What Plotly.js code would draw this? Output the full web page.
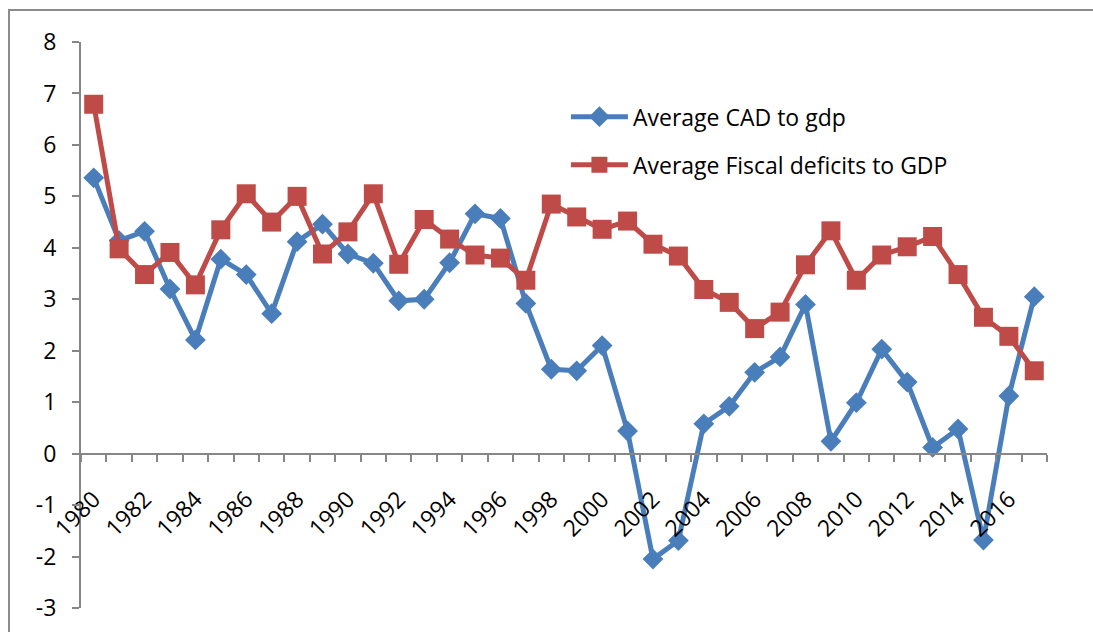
<!DOCTYPE html>
<html>
<head>
<meta charset="utf-8">
<script src="https://cdn.plot.ly/plotly-3.0.1.min.js"></script>
<style>
  html, body { margin: 0; padding: 0; background: #fff; }
  #frame { position: absolute; left: 8px; top: 9px; width: 1100px; height: 640px; border-left: 2px solid #8c8c8c; border-top: 2px solid #8c8c8c; }
  #chart { position: absolute; left: 0; top: 0; width: 1093px; height: 632px; }
</style>
</head>
<body>
<div id="frame"></div>
<div id="chart"></div>
<script>
const years = [1980,1981,1982,1983,1984,1985,1986,1987,1988,1989,
               1990,1991,1992,1993,1994,1995,1996,1997,1998,1999,
               2000,2001,2002,2003,2004,2005,2006,2007,2008,2009,
               2010,2011,2012,2013,2014,2015,2016,2017];
const cadToGdp = [5.36,4.14,4.32,3.2,2.21,3.78,3.48,2.72,4.12,4.46,
                  3.88,3.7,2.97,3.0,3.71,4.66,4.57,2.92,1.64,1.61,
                  2.1,0.44,-2.05,-1.69,0.58,0.92,1.58,1.88,2.9,0.24,
                  0.99,2.03,1.39,0.12,0.48,-1.68,1.12,3.05];
const fiscalToGdp = [6.79,3.98,3.48,3.91,3.28,4.35,5.05,4.5,5.0,3.88,
                     4.31,5.05,3.68,4.55,4.17,3.86,3.8,3.37,4.85,4.6,
                     4.36,4.52,4.07,3.84,3.19,2.94,2.43,2.75,3.67,4.33,
                     3.37,3.86,4.02,4.22,3.48,2.65,2.28,1.61];
const labelYears = [1980,1982,1984,1986,1988,1990,1992,1994,1996,1998,
                    2000,2002,2004,2006,2008,2010,2012,2014,2016];
const yTicks = [-3,-2,-1,0,1,2,3,4,5,6,7,8];
const yTickText = ["-3","-2","-1","0","1","2","3","4","5","6","7","8"];
const names = ["Average CAD to gdp", "Average Fiscal deficits to GDP"];

const FONT = "Open Sans, Lato, sans-serif";
const FS = 23;
const traces = [
  {
    x: years, y: cadToGdp, name: names[0], type: "scatter", mode: "lines+markers",
    line: {color: "#4a7ebb", width: 5},
    marker: {symbol: "diamond", size: 16, color: "#4a7ebb"},
    legend: "legend"
  },
  {
    x: years, y: fiscalToGdp, name: names[1], type: "scatter", mode: "lines+markers",
    line: {color: "#be4b48", width: 5},
    marker: {symbol: "square", size: 19, color: "#be4b48"},
    legend: "legend2"
  }
];

const legendBase = {
  bgcolor: "rgba(0,0,0,0)", borderwidth: 0,
  font: {family: FONT, size: FS, color: "#000"},
  xanchor: "left", yanchor: "middle", itemwidth: 57
};

const layout = {
  width: 1093, height: 632,
  margin: {l: 81, r: 46, t: 42, b: 24, pad: 0},
  paper_bgcolor: "rgba(0,0,0,0)", plot_bgcolor: "rgba(0,0,0,0)",
  font: {family: FONT, size: FS, color: "#000"},
  showlegend: true,
  legend: Object.assign({}, legendBase, {x: 0.502, y: 0.868}),
  legend2: Object.assign({}, legendBase, {x: 0.502, y: 0.783}),
  xaxis: {
    type: "linear", range: [1979.5, 2017.5],
    tickmode: "array", tickvals: labelYears, ticktext: labelYears.map(String),
    ticks: "", tickangle: -45, ticklabelstandoff: 22,
    minor: {tick0: 1979.5, dtick: 1, ticks: "outside", ticklen: 7, tickcolor: "#868686", tickwidth: 2, showgrid: false},
    showline: true, linecolor: "#868686", linewidth: 2,
    showgrid: false, zeroline: false,
    anchor: "free", position: 3 / 11,
    tickfont: {family: FONT, size: FS, color: "#000"}
  },
  yaxis: {
    range: [-3, 8], tickmode: "array", tickvals: yTicks, ticktext: yTickText,
    ticks: "outside", ticklen: 7, tickcolor: "#868686", tickwidth: 2,
    showline: true, linecolor: "#868686", linewidth: 2,
    showgrid: false, zeroline: false, ticklabelstandoff: 11,
    tickfont: {family: FONT, size: FS, color: "#000"}
  }
};

Plotly.newPlot("chart", traces, layout, {displayModeBar: false, staticPlot: true});
</script>
</body>
</html>
